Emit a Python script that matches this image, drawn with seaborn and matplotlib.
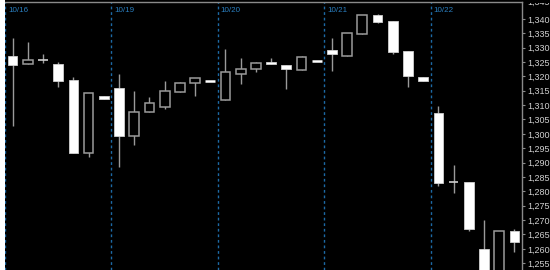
import numpy as np
import pandas as pd
import matplotlib
matplotlib.use("Agg")
import matplotlib.pyplot as plt
import matplotlib.transforms as mtransforms
from matplotlib.patches import Rectangle
import seaborn as sns

# ---- data ----
opens = [1327.2, 1324.3, 1325.7, 1324.3, 1318.7, 1293.5, 1313.3,
         1316.0, 1299.2, 1307.6, 1309.3, 1314.7, 1317.7, 1318.5,
         1311.9, 1320.7, 1322.4, 1324.9, 1323.8, 1322.3, 1325.2,
         1329.2, 1327.0, 1334.9, 1341.3, 1339.4, 1328.7, 1319.8,
         1307.2, 1283.4, 1283.1, 1260.1, 1250.0, 1266.2]
highs = [1333.4, 1331.8, 1327.6, 1325.1, 1319.9, 1314.2, 1313.3,
         1320.9, 1314.8, 1312.8, 1318.3, 1318.2, 1319.4, 1318.5,
         1329.5, 1326.4, 1325.1, 1326.4, 1323.8, 1327.2, 1325.2,
         1333.2, 1335.1, 1341.5, 1341.7, 1339.4, 1328.7, 1319.8,
         1309.8, 1289.2, 1283.1, 1270.1, 1266.1, 1266.8]
lows = [1302.6, 1324.3, 1324.7, 1316.3, 1293.3, 1292.1, 1312.2,
        1288.4, 1296.0, 1307.6, 1308.5, 1314.7, 1313.0, 1318.5,
        1311.9, 1317.2, 1321.6, 1324.2, 1315.6, 1322.1, 1325.2,
        1322.0, 1327.0, 1334.8, 1338.6, 1327.8, 1316.2, 1318.5,
        1281.7, 1279.4, 1266.3, 1245.0, 1250.0, 1259.0]
closes = [1324.0, 1325.6, 1325.7, 1318.5, 1293.3, 1314.2, 1312.2,
          1299.4, 1307.7, 1310.7, 1314.8, 1317.7, 1319.4, 1318.5,
          1321.6, 1322.6, 1324.7, 1324.2, 1322.7, 1326.8, 1325.2,
          1327.8, 1335.1, 1341.5, 1338.8, 1328.4, 1320.0, 1318.5,
          1282.9, 1283.4, 1266.8, 1248.0, 1266.1, 1262.3]
day_labels = ["10/16", "10/19", "10/20", "10/21", "10/22"]
day_start_index = [0, 7, 14, 21, 28]
y_ticks = [1255, 1260, 1265, 1270, 1275, 1280, 1285, 1290, 1295, 1300,
           1305, 1310, 1315, 1320, 1325, 1330, 1335, 1340]

df = pd.DataFrame({"open": opens, "high": highs, "low": lows, "close": closes})
df["idx"] = np.arange(len(df))

sns.set_theme(style="dark", rc={
    "axes.facecolor": "black", "figure.facecolor": "black",
    "axes.edgecolor": "#8a8a8a", "axes.grid": False,
})
plt.rcParams["font.family"] = ["Liberation Sans Narrow", "Liberation Sans", "DejaVu Sans"]

W, H = 550, 270
fig = plt.figure(figsize=(W / 100, H / 100), dpi=100)
fig.patch.set_facecolor("black")
ax = fig.add_axes([5 / W, 0.0, (522 - 5) / W, (H - 1.5) / H])
ax.set_facecolor("black")

# left white strip
fig.patches.append(Rectangle((0, 0), 4.5 / W, 1, transform=fig.transFigure,
                             facecolor="white", edgecolor="none", zorder=0))

wick_color = "#9a9a9a"
body_w = 0.64

up = df[df["close"] > df["open"]]
down = df[df["close"] < df["open"]]
flat = df[df["close"] == df["open"]]

# wicks
ax.vlines(df["idx"], df["low"], df["high"], color=wick_color, lw=1.0, zorder=2)
# down candles: filled white
ax.bar(down["idx"], down["open"] - down["close"], bottom=down["close"], width=body_w,
       color="white", edgecolor="#d0d0d0", lw=0.6, zorder=3)
# up candles: hollow
ax.bar(up["idx"], up["close"] - up["open"], bottom=up["open"], width=body_w,
       color="black", edgecolor=wick_color, lw=1.1, zorder=3)
# flat candles
for _, r in flat.iterrows():
    single = r["high"] == r["low"]
    ax.hlines(r["open"], r["idx"] - body_w / 2, r["idx"] + body_w / 2,
              color="white" if single else "#cfcfcf", lw=1.8 if single else 1.2, zorder=3)

# day separators and labels
for lab, si in zip(day_labels, day_start_index):
    xs = si - 0.5
    ax.axvline(xs, color="#1d6aa5", lw=1.0, ls=(0, (2, 2)), zorder=1)
    ax.annotate(lab, xy=(xs, 1.0), xycoords=("data", "axes fraction"),
                xytext=(3, -5), textcoords="offset pixels", ha="left", va="top",
                color="#2a7fc0", fontsize=5.8)

ax.set_xlim(-0.5, len(df) - 0.5)
ax.set_ylim(1252.65, 1346.03)
ax.set_xticks([])
ax.set_yticks(y_ticks)
ax.set_yticklabels([f"{v:,}" for v in y_ticks])
ax.yaxis.tick_right()
ax.tick_params(axis="y", which="both", right=True, left=False, length=2.5, width=0.8,
               colors="#8a8a8a", labelcolor="#d0d0d0", labelsize=6.5, pad=1)
for s in ["left", "bottom"]:
    ax.spines[s].set_visible(False)
ax.spines["right"].set_color("#8a8a8a")
ax.spines["top"].set_color("#8a8a8a")
ax.spines["right"].set_linewidth(1.0)
ax.spines["top"].set_linewidth(1.0)

# partly hidden 1,345 label at the very top (only its bottom edge shows, as in the reference)
t = ax.annotate("1,345", xy=(1.0, 1345), xycoords=("axes fraction", "data"),
                xytext=(5, 2), textcoords="offset pixels", ha="left", va="center",
                color="#d0d0d0", fontsize=6.5, annotation_clip=False)
t.set_clip_on(True)
t.set_clip_box(mtransforms.Bbox([[0, 0], [W, H - 3.0]]))

fig.savefig("out.png", dpi=100, facecolor="black")
